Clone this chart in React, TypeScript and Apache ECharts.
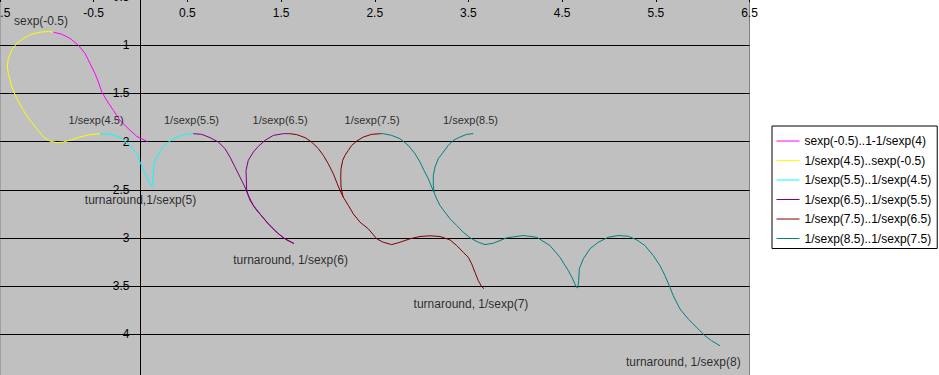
import React, { useEffect, useRef } from "react";
import * as echarts from "echarts";

const FONT = "'Liberation Sans', Arial, sans-serif";

const seriesNames = [
  "sexp(-0.5)..1-1/sexp(4)",
  "1/sexp(4.5)..sexp(-0.5)",
  "1/sexp(5.5)..1/sexp(4.5)",
  "1/sexp(6.5)..1/sexp(5.5)",
  "1/sexp(7.5)..1/sexp(6.5)",
  "1/sexp(8.5)..1/sexp(7.5)",
];
const seriesColors = ["#ff00ff", "#ffff00", "#00ffff", "#800080", "#800000", "#008080"];

const magentaPts = [
  [-0.931, 0.865], [-0.841, 0.886], [-0.752, 0.93], [-0.664, 1.0], [-0.592, 1.086],
  [-0.539, 1.19], [-0.486, 1.294], [-0.45, 1.381], [-0.414, 1.485], [-0.361, 1.572],
  [-0.29, 1.676], [-0.219, 1.78], [-0.13, 1.866], [-0.041, 1.946], [0.075, 2.0],
];

const yellowPts = [
  [-0.432, 1.918], [-0.539, 1.928], [-0.646, 1.953], [-0.734, 1.98], [-0.824, 2.005],
  [-0.894, 2.011], [-0.966, 1.995], [-1.037, 1.953], [-1.108, 1.866], [-1.179, 1.78],
  [-1.251, 1.676], [-1.321, 1.554], [-1.375, 1.433], [-1.411, 1.294], [-1.422, 1.226],
  [-1.411, 1.138], [-1.375, 1.052], [-1.321, 0.982], [-1.251, 0.93], [-1.161, 0.886],
  [-1.073, 0.865], [-0.984, 0.858], [-0.931, 0.865],
];

const cyanPts = [
  [0.564, 1.918], [0.475, 1.925], [0.386, 1.953], [0.297, 2.005], [0.226, 2.074],
  [0.173, 2.161], [0.144, 2.23], [0.137, 2.351], [0.12, 2.471], [0.048, 2.334],
  [-0.005, 2.213], [-0.041, 2.123], [-0.112, 2.04], [-0.219, 1.956], [-0.326, 1.925],
  [-0.432, 1.918],
];

const purplePts = [
  [1.59, 1.918], [1.524, 1.918], [1.417, 1.936], [1.329, 1.988], [1.257, 2.05],
  [1.204, 2.109], [1.15, 2.195], [1.126, 2.299], [1.133, 2.507], [1.169, 2.611],
  [1.233, 2.705], [1.307, 2.788], [1.382, 2.871], [1.467, 2.954], [1.553, 3.017],
  [1.638, 3.058], [1.631, 3.055], [1.524, 2.999], [1.435, 2.923], [1.347, 2.837],
  [1.275, 2.75], [1.204, 2.663], [1.15, 2.559], [1.115, 2.473], [1.062, 2.369],
  [1.009, 2.265], [0.955, 2.161], [0.902, 2.074], [0.83, 2.005], [0.742, 1.959],
  [0.653, 1.925], [0.564, 1.918],
];

const darkRedLoop = [
  [2.565, 1.918], [2.467, 1.925], [2.378, 1.953], [2.307, 1.995], [2.254, 2.04],
  [2.218, 2.091], [2.182, 2.143], [2.158, 2.195], [2.14, 2.282], [2.137, 2.369],
  [2.14, 2.473], [2.158, 2.559], [2.164, 2.577], [2.129, 2.507], [2.1, 2.438],
  [2.058, 2.334], [2.004, 2.23], [1.951, 2.143], [1.898, 2.074], [1.827, 2.005],
  [1.756, 1.959], [1.667, 1.928], [1.59, 1.918],
];

const darkRedWave = [
  [2.164, 2.577], [2.218, 2.663], [2.271, 2.75], [2.343, 2.837], [2.431, 2.905],
  [2.521, 3.009], [2.591, 3.045], [2.681, 3.069], [2.769, 3.045], [2.876, 3.009],
  [2.983, 2.985], [3.09, 2.978], [3.196, 2.985], [3.303, 3.02], [3.375, 3.079],
  [3.445, 3.149], [3.498, 3.201], [3.535, 3.269], [3.57, 3.357], [3.605, 3.443],
  [3.641, 3.505], [3.666, 3.526],
];

const tealLoop = [
  [3.552, 1.918], [3.481, 1.925], [3.41, 1.953], [3.338, 1.988], [3.285, 2.04],
  [3.232, 2.109], [3.178, 2.178], [3.143, 2.265], [3.125, 2.351], [3.125, 2.455],
  [3.132, 2.525], [3.108, 2.473], [3.072, 2.386], [3.026, 2.299], [2.983, 2.213],
  [2.93, 2.126], [2.858, 2.04], [2.769, 1.97], [2.681, 1.936], [2.591, 1.918],
  [2.565, 1.918],
];

const tealWave = [
  [3.132, 2.525], [3.161, 2.594], [3.196, 2.663], [3.25, 2.733], [3.303, 2.801],
  [3.375, 2.871], [3.445, 2.941], [3.517, 2.999], [3.605, 3.045], [3.677, 3.069],
  [3.765, 3.055], [3.908, 2.999], [4.085, 2.975], [4.228, 2.993], [4.37, 3.079],
  [4.477, 3.201], [4.566, 3.339], [4.613, 3.425], [4.648, 3.505], [4.666, 3.519],
  [4.677, 3.443], [4.683, 3.321], [4.726, 3.217], [4.797, 3.113], [4.886, 3.045],
  [4.992, 2.993], [5.099, 2.975], [5.206, 2.982], [5.296, 3.02], [5.384, 3.079],
  [5.473, 3.183], [5.544, 3.287], [5.598, 3.391], [5.651, 3.512], [5.686, 3.599],
  [5.758, 3.737], [5.846, 3.841], [5.936, 3.928], [6.025, 4.015], [6.096, 4.067],
  [6.185, 4.119],
];

const labelTexts = [
  "sexp(-0.5)", "1/sexp(4.5)", "1/sexp(5.5)", "1/sexp(6.5)", "1/sexp(7.5)", "1/sexp(8.5)",
  "turnaround,1/sexp(5)", "turnaround, 1/sexp(6)", "turnaround, 1/sexp(7)", "turnaround, 1/sexp(8)",
];
const labelX = [-1.062, -0.475, 0.544, 1.489, 2.471, 3.522, 0.0, 1.601, 3.527, 5.793];
const labelY = [0.751, 1.78, 1.78, 1.78, 1.78, 1.78, 2.611, 3.224, 3.682, 4.285];
const labelSizes = [12, 11, 11, 11, 11, 11, 12, 12, 12, 12];

const xMin = -1.5;
const xMax = 6.5;
const xStep = 1;
const yMin = 0.5;
const yMax = 4.5;
const yStep = 0.5;

const GRID_W = 749.5;
const GRID_H = 385.5;

export default function App() {
  const ref = useRef<HTMLDivElement>(null);

  useEffect(() => {
    if (!ref.current) return;
    const chart = echarts.init(ref.current, null, { renderer: "svg" });

    const lineSeries = (idx: number, data: number[][]) => ({
      type: "line",
      name: seriesNames[idx],
      data,
      symbol: "none",
      showSymbol: false,
      smooth: false,
      lineStyle: { color: seriesColors[idx], width: 1 },
      itemStyle: { color: seriesColors[idx] },
      z: 3,
    });

    // y axis crosses the x axis at x = 0
    const yAxisOffset = -((0 - xMin) / (xMax - xMin)) * GRID_W;

    const option: any = {
      animation: false,
      backgroundColor: "#ffffff",
      textStyle: { fontFamily: FONT },
      grid: {
        left: 0,
        top: 0,
        width: GRID_W,
        height: GRID_H,
        containLabel: false,
        outerBoundsMode: "none",
        show: true,
        backgroundColor: "#c0c0c0",
        borderColor: "#808080",
        borderWidth: 1,
      },
      legend: {
        data: seriesNames,
        orient: "vertical",
        left: 772,
        top: 129,
        itemWidth: 23,
        itemHeight: 12,
        itemGap: 7.5,
        padding: [9, 6, 4, 4],
        backgroundColor: "#ffffff",
        borderColor: "#000000",
        borderWidth: 1,
        selectedMode: false,
        itemStyle: { opacity: 0 },
        lineStyle: { width: 1 },
        textStyle: { fontSize: 12, color: "#000000", fontFamily: FONT },
      },
      xAxis: {
        type: "value",
        position: "top",
        min: xMin,
        max: xMax,
        interval: xStep,
        axisLine: { onZero: false, show: true, lineStyle: { color: "#000" } },
        axisTick: { show: true, inside: true, length: 5, lineStyle: { color: "#000" } },
        axisLabel: {
          inside: true,
          margin: 10,
          fontSize: 12,
          color: "#000",
          fontFamily: FONT,
          showMinLabel: true,
          showMaxLabel: true,
        },
        splitLine: { show: false },
      },
      yAxis: {
        type: "value",
        inverse: true,
        position: "left",
        offset: yAxisOffset,
        min: yMin,
        max: yMax,
        interval: yStep,
        axisLine: { onZero: false, show: true, lineStyle: { color: "#000" } },
        axisTick: { show: false },
        axisLabel: {
          margin: 11,
          fontSize: 12,
          color: "#000",
          fontFamily: FONT,
          showMinLabel: true,
          showMaxLabel: true,
        },
        splitLine: { show: true, lineStyle: { color: "#000", width: 1 } },
      },
      series: [
        lineSeries(0, magentaPts),
        lineSeries(1, yellowPts),
        lineSeries(2, cyanPts),
        lineSeries(3, purplePts),
        lineSeries(4, darkRedLoop),
        lineSeries(4, darkRedWave),
        lineSeries(5, tealLoop),
        lineSeries(5, tealWave),
        {
          type: "scatter",
          name: "labels",
          symbolSize: 0,
          silent: true,
          z: 10,
          data: labelTexts.map((t, i) => ({
            name: t,
            value: [labelX[i], labelY[i]],
            label: { fontSize: labelSizes[i] },
          })),
          label: {
            show: true,
            position: "inside",
            formatter: "{b}",
            color: "#000",
            fontFamily: FONT,
            align: "center",
            verticalAlign: "middle",
          },
        },
      ],
    };

    chart.setOption(option);
    return () => chart.dispose();
  }, []);

  return (
    <div
      ref={ref}
      style={{ position: "fixed", left: 0, top: -3, width: 939, height: 386 }}
    />
  );
}
